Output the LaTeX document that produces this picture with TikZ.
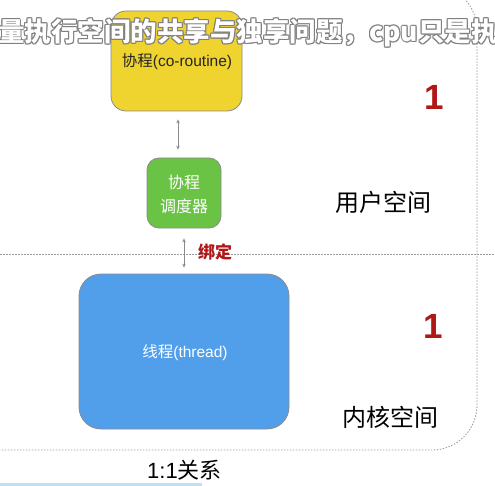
\documentclass[tikz,border=0pt]{standalone}
\usepackage{fontspec}
\setmainfont{Liberation Sans}
\newfontfamily\cjk{Noto Sans CJK SC}
\usetikzlibrary{arrows.meta,calc}
\definecolor{yel}{HTML}{EFD32F}
\definecolor{grn}{HTML}{6BC346}
\definecolor{blu}{HTML}{519FEB}
\definecolor{dred}{HTML}{B01818}
\definecolor{bord}{HTML}{8A8A8A}
\definecolor{lblue}{HTML}{BDE3F3}
\definecolor{dotc}{HTML}{9A9A9A}
\begin{document}
\begin{tikzpicture}[x=1bp,y=-1bp,
  box/.style={draw=bord, line width=0.8bp, rounded corners=#1, inner sep=0pt},
  arr/.style={draw=bord, line width=0.8bp, {Stealth[length=4bp,width=3.5bp]}-{Stealth[length=4bp,width=3.5bp]}},
  dotline/.style={draw=dotc, line width=0.8bp, dash pattern=on 1.5bp off 1.5bp},
  bignum/.style={text=dred, font=\fontsize{35bp}{35bp}\selectfont\bfseries, inner sep=0pt},
  space/.style={font=\fontsize{24bp}{28bp}\selectfont\cjk, inner sep=0pt},
  inbox/.style={text=#1, font=\fontsize{15.5bp}{24bp}\selectfont, inner sep=0pt, align=center},
  capt/.style={font=\fontsize{26.5bp}{30bp}\selectfont\cjk\bfseries, inner sep=0pt, anchor=west}
]
\useasboundingbox (0,0) rectangle (495,486);

% dotted region borders
\draw[dotline] (0,254) -- (495,254);
\draw[dotline, rounded corners=45bp] (0,-15) -- (477,-15) -- (477,450) -- (0,450);

% boxes
\node[box=15bp, fill=yel, minimum width=131bp, minimum height=100bp] (co) at (176.5,61) {};
\node[inbox=black!85] (cot) at (177,62) {{\cjk 协程}(co-routine)};

\node[box=12bp, fill=grn, minimum width=74bp, minimum height=70bp] (sch) at (184,193) {};
\node[inbox=white, font=\fontsize{16bp}{24bp}\selectfont\cjk] (scht) at (184,194) {协程\\调度器};

\node[box=22bp, fill=blu, minimum width=210bp, minimum height=155bp] (thr) at (184,351.5) {};
\node[inbox=white] (thrt) at (185,353) {{\cjk 线程}(thread)};

% arrows
\coordinate (a1) at (178,0);
\coordinate (a2) at (184,0);
\draw[arr] ($(co.south -| a1)+(0,8)$) -- ($(sch.north -| a1)+(0,-8)$);
\draw[arr] ($(sch.south -| a2)+(0,10)$) -- ($(thr.north -| a2)+(0,-6)$);
\node[text=dred, font=\fontsize{17bp}{20bp}\selectfont\cjk\bfseries, inner sep=0pt] (bind) at (215,252) {绑定};

% numbers and labels
\node[bignum] (n1) at (434,97) {1};
\node[bignum] (n2) at (433,326) {1};
\node[space] (user) at (383.5,202) {用户空间};
\node[space] (kern) at (390,417) {内核空间};
\node[font=\fontsize{22bp}{26bp}\selectfont, inner sep=0pt] (ratio) at (184.5,470) {1:1{\cjk 关系}};
\fill[lblue] (0,483) rectangle (202,486);

% subtitle overlay
\foreach \dx/\dy [count=\i] in {1/0,-1/0,0/1,0/-1,0.8/0.8,-0.8/0.8,0.8/-0.8,-0.8/-0.8}
  \node[capt, text=black!50] (capo\i) at ({-2+\dx},{33+\dy}) {量执行空间的共享与独享问题，cpu只是执};
\node[capt, text=white] (cap) at (-2,33) {量执行空间的共享与独享问题，cpu只是执};
\end{tikzpicture}
\end{document}
